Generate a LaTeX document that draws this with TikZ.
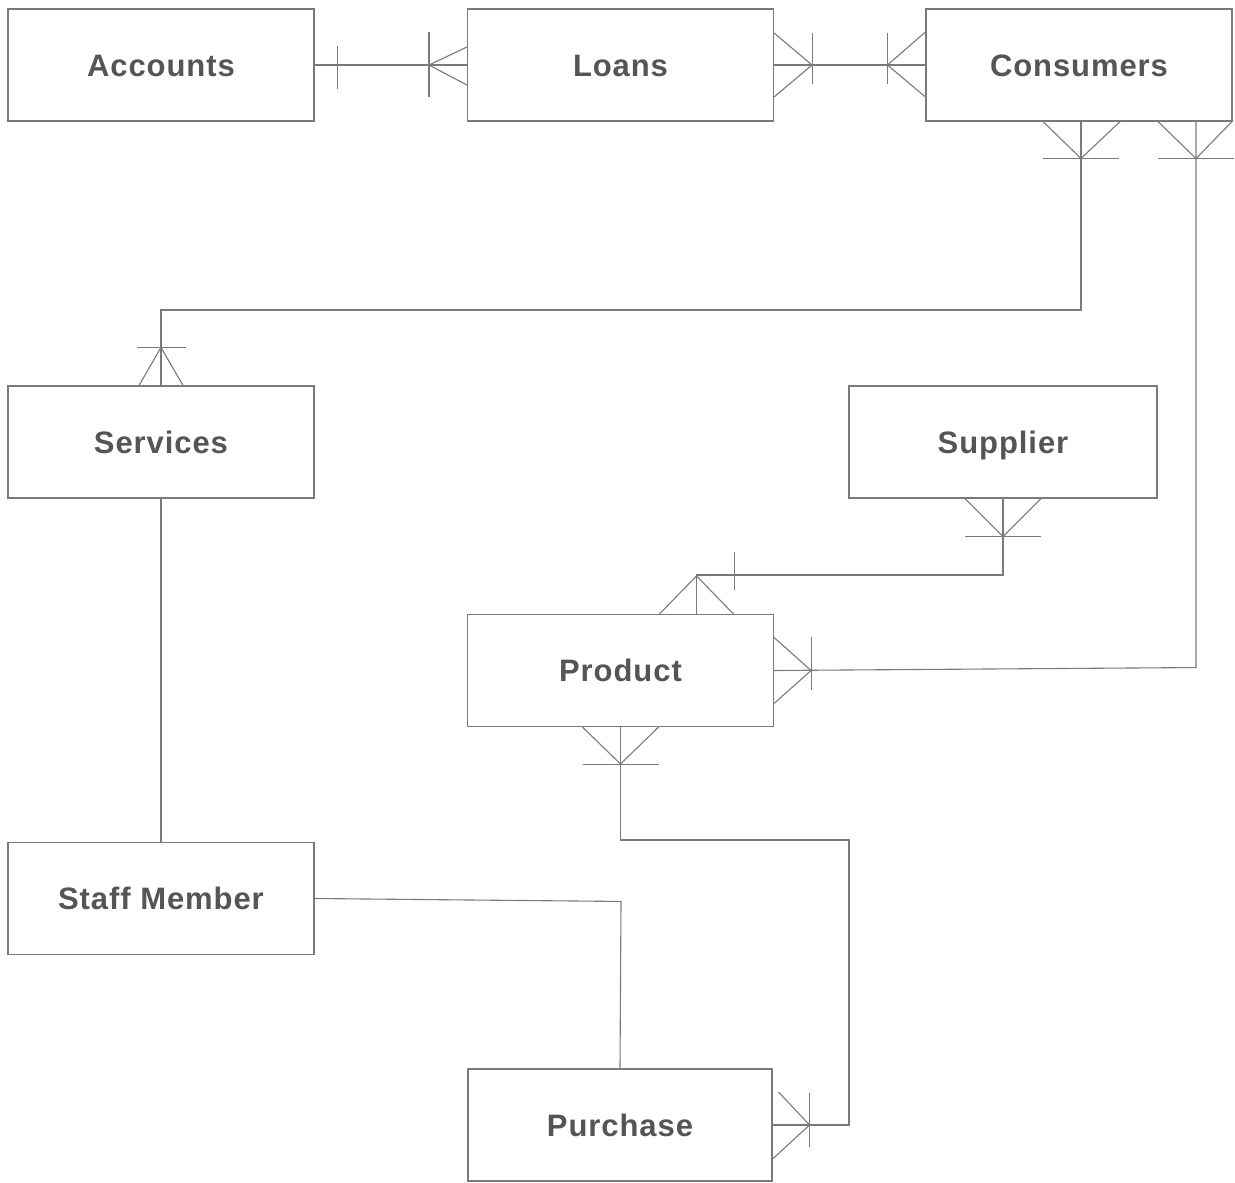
\documentclass[tikz,border=0pt]{standalone}
\usepackage{fontspec}
\setmainfont{Liberation Sans}
\newfontfamily\entfont[LetterSpace=3]{Liberation Sans}
\usetikzlibrary{calc}
\definecolor{ln}{HTML}{7A7A7A}
\definecolor{tx}{HTML}{555555}
\begin{document}
\begin{tikzpicture}[x=1pt,y=-1pt,
  ent/.style={draw=ln, line width=1.1pt, minimum width=306pt, minimum height=112pt,
    inner sep=0pt, text height=22pt, text depth=0pt,
    font=\entfont\fontsize{31}{36}\selectfont\bfseries, text=tx},
  rel/.style={draw=ln, line width=1.1pt}]
\useasboundingbox[fill=white] (0,0) rectangle (1235,1183);
% entities
\node[ent] (acc)   at (161,65)     {Accounts};
\node[ent] (loans) at (620.5,65)   {Loans};
\node[ent] (cons)  at (1079,65)    {Consumers};
\node[ent] (serv)  at (161,442)    {Services};
\node[ent, minimum width=308pt] (supp) at (1003,442) {Supplier};
\node[ent] (prod)  at (620.5,670.5) {Product};
\node[ent] (staff) at (161,898.5)  {Staff Member};
\node[ent, minimum width=304pt] (purch) at (620,1125) {Purchase};
% helper coordinates
\coordinate (m1) at (0,310);
\coordinate (m2) at (0,575);
\coordinate (m3) at (849,840);
\coordinate (c1) at ($(cons.south)+(2,0)$);
\coordinate (c2) at ($(cons.south)+(117,0)$);
\coordinate (p1) at ($(prod.north)+(76,0)$);
% Accounts -- Loans
\draw[rel] (acc.east) -- (loans.west);
\draw[rel] ($(acc.east)+(23,-19)$) -- ($(acc.east)+(23,24)$);
\coordinate (a1) at ($(loans.west)+(-38,0)$);
\draw[rel] ($(loans.west)+(0,-18)$) -- (a1) -- ($(loans.west)+(0,20)$);
\draw[rel] ($(a1)+(0,-33)$) -- ($(a1)+(0,32)$);
% Loans -- Consumers
\draw[rel] (loans.east) -- (cons.west);
\coordinate (a2) at ($(loans.east)+(38,0)$);
\draw[rel] ($(loans.east)+(0,-32)$) -- (a2) -- ($(loans.east)+(0,32)$);
\draw[rel] ($(a2)+(0,-32)$) -- ($(a2)+(0,19)$);
\coordinate (a3) at ($(cons.west)+(-38,0)$);
\draw[rel] ($(cons.west)+(0,-33)$) -- (a3) -- ($(cons.west)+(0,32)$);
\draw[rel] ($(a3)+(0,-32)$) -- ($(a3)+(0,19)$);
% Consumers -- Services
\draw[rel] (c1) -- (c1 |- m1) -| (serv.north);
\coordinate (a4) at ($(c1)+(0,37)$);
\draw[rel] ($(c1)+(-38,0)$) -- (a4) -- ($(c1)+(39,0)$);
\draw[rel] ($(a4)+(-38,0)$) -- ($(a4)+(38,0)$);
\coordinate (a5) at ($(serv.north)+(0,-38)$);
\draw[rel] ($(serv.north)+(-22,0)$) -- (a5) -- ($(serv.north)+(22,0)$);
\draw[rel] ($(a5)+(-24,0)$) -- ($(a5)+(25,0)$);
% Consumers -- Product
\draw[rel] (c2) -- ($(c2)+(0,546)$) -- (prod.east);
\coordinate (a6) at ($(c2)+(0,37)$);
\draw[rel] ($(c2)+(-38,0)$) -- (a6) -- ($(c2)+(36,0)$);
\draw[rel] ($(a6)+(-38,0)$) -- ($(a6)+(38,0)$);
\coordinate (a7) at ($(prod.east)+(37,0)$);
\draw[rel] ($(prod.east)+(0,-33)$) -- (a7) -- ($(prod.east)+(0,33)$);
\draw[rel] ($(a7)+(0,-34)$) -- ($(a7)+(0,19)$);
% Supplier -- Product
\draw[rel] (supp.south) -- (supp.south |- m2) -- (p1 |- m2) -- (p1);
\coordinate (a8) at ($(supp.south)+(0,38)$);
\draw[rel] ($(supp.south)+(-38,0)$) -- (a8) -- ($(supp.south)+(38,0)$);
\draw[rel] ($(a8)+(-38,0)$) -- ($(a8)+(38,0)$);
\coordinate (a9) at ($(p1)+(0,-38)$);
\draw[rel] ($(p1)+(-37,0)$) -- (a9) -- ($(p1)+(37,0)$);
\draw[rel] ($(p1)+(38,-62)$) -- ($(p1)+(38,-24)$);
% Product -- Purchase
\draw[rel] (prod.south) -- (prod.south |- m3) -- (m3) -- (m3 |- purch.east) -- (purch.east);
\coordinate (a10) at ($(prod.south)+(0,37)$);
\draw[rel] ($(prod.south)+(-38,0)$) -- (a10) -- ($(prod.south)+(38,0)$);
\draw[rel] ($(a10)+(-38,0)$) -- ($(a10)+(38,0)$);
\coordinate (a11) at ($(purch.east)+(37,0)$);
\draw[rel] ($(purch.east)+(6,-33)$) -- (a11) -- ($(purch.east)+(0,34)$);
\draw[rel] ($(a11)+(0,-32)$) -- ($(a11)+(0,22)$);
% Services -- Staff Member
\draw[rel] (serv.south) -- (staff.north);
% Staff Member -- Purchase
\draw[rel] (staff.east) -- ($(purch.north)+(1,-167)$) -- (purch.north);
\end{tikzpicture}
\end{document}
